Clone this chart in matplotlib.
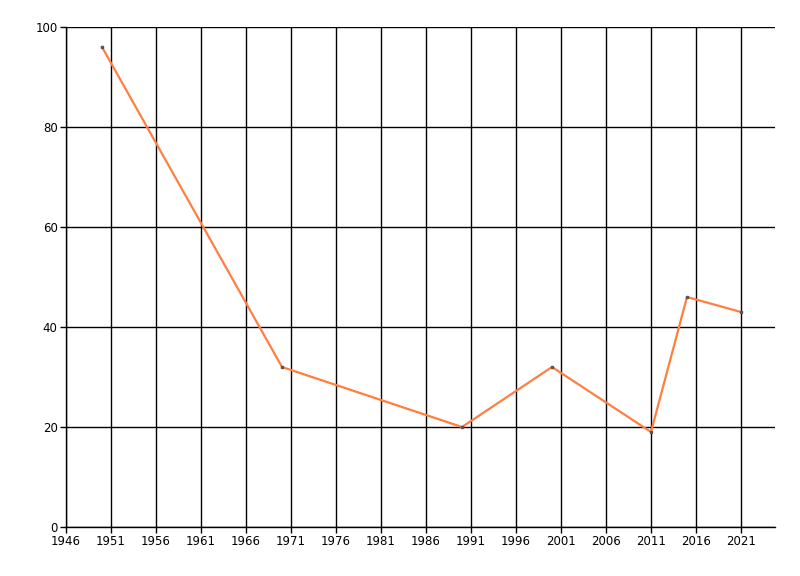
import matplotlib
matplotlib.use("Agg")
import matplotlib.pyplot as plt
import numpy as np

years = [1950, 1970, 1990, 2000, 2011, 2015, 2021]
values = [96, 32, 20, 32, 19, 46, 43]
x_ticks = list(range(1946, 2022, 5))
y_ticks = [0, 20, 40, 60, 80, 100]

fig = plt.figure(figsize=(8, 5.76), dpi=100)
ax = fig.add_axes([66 / 800, 1 - 527 / 576, (775 - 66) / 800, (527 - 27) / 576])

ax.plot(years, values, color="#FF7F40", linewidth=1.6, zorder=3)
ax.plot(years, values, linestyle="none", marker="s", markersize=1.5,
        color="#555555", zorder=4)

ax.set_xlim(1946, 1946 + (775 - 66) / 9)
ax.set_ylim(0, 100)
ax.set_xticks(x_ticks)
ax.set_yticks(y_ticks)
ax.grid(True, color="black", linewidth=1)
ax.set_axisbelow(True)

for s in ["top", "right"]:
    ax.spines[s].set_visible(False)
for s in ["left", "bottom"]:
    ax.spines[s].set_linewidth(1)
ax.tick_params(length=4, width=1, labelsize=8.5, pad=2)

fig.savefig("out.png", dpi=100)
